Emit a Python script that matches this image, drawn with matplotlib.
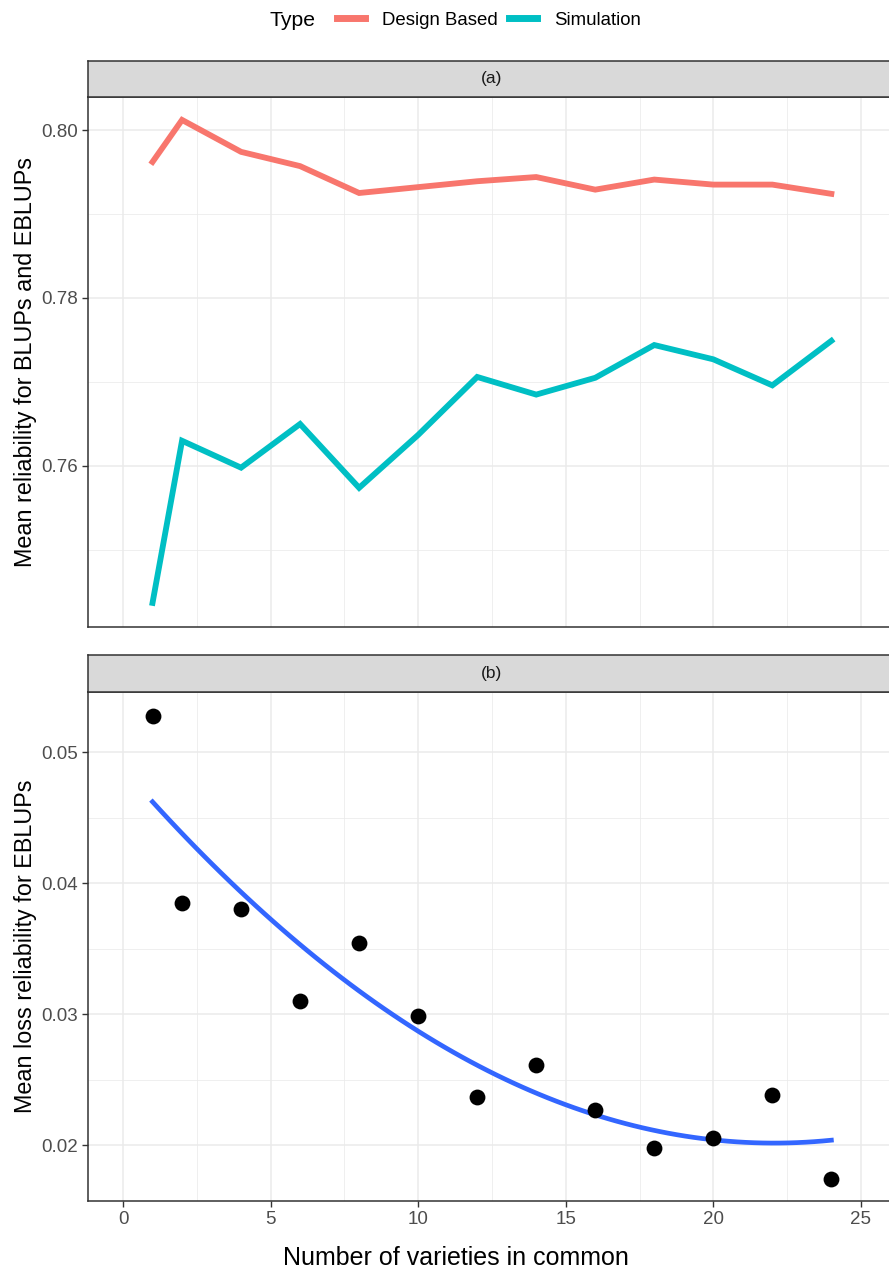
import numpy as np
import matplotlib
matplotlib.use("Agg")
import matplotlib.pyplot as plt
from matplotlib.lines import Line2D

plt.rcParams['font.family'] = ['Liberation Sans', 'DejaVu Sans']

# data
varieties = [1, 2, 4, 6, 8, 10, 12, 14, 16, 18, 20, 22, 24]
design_based = [0.7962, 0.8012, 0.7974, 0.7957, 0.7925, 0.7932, 0.7939, 0.7944,
                0.7929, 0.7941, 0.7935, 0.7935, 0.7924]
simulation = [0.7437, 0.7630, 0.7598, 0.7650, 0.7574, 0.7637, 0.7706, 0.7685,
              0.7705, 0.7744, 0.7727, 0.7696, 0.7749]
loss = [0.05275, 0.03847, 0.03802, 0.03099, 0.03542, 0.02985, 0.02366, 0.0261,
        0.02267, 0.01977, 0.02053, 0.02382, 0.0174]
type_labels = ["Design Based", "Simulation"]
type_colors = ["#F8766D", "#00BFC4"]
strip_labels = ["(a)", "(b)"]

W, H = 889, 1272
fig = plt.figure(figsize=(W / 100, H / 100), dpi=100)

def box(l, t, r, b):
    return [l / W, 1 - b / H, (r - l) / W, (b - t) / H]

grey20 = "#333333"
grid_c = "#EBEBEB"

def style(ax, xticks_on):
    ax.set_facecolor("white")
    for s in ax.spines.values():
        s.set_color(grey20)
        s.set_linewidth(1.1)
    ax.set_xlim(-1.186, 26.19)
    ax.set_xticks([0, 5, 10, 15, 20, 25])
    ax.set_xticks([2.5, 7.5, 12.5, 17.5, 22.5], minor=True)
    ax.grid(True, which="major", color=grid_c, lw=1.1)
    ax.grid(True, which="minor", color=grid_c, lw=0.55)
    ax.set_axisbelow(True)
    ax.tick_params(which="minor", length=0)
    ax.tick_params(which="major", length=4, width=1.0, color=grey20,
                   labelsize=13.5, labelcolor="#4D4D4D", pad=3.5)
    if not xticks_on:
        ax.tick_params(axis="x", which="major", length=0, labelbottom=False)

def strip(t, b, label):
    sa = fig.add_axes(box(88, t, 896, b))
    sa.set_facecolor("#D9D9D9")
    sa.set_xticks([])
    sa.set_yticks([])
    for s in sa.spines.values():
        s.set_color(grey20)
        s.set_linewidth(1.1)
    sa.text(0.5, 0.5, label, ha="center", va="center",
            fontsize=12.5, color="#1A1A1A", transform=sa.transAxes)

# panel (a)
ax1 = fig.add_axes(box(88, 97, 896, 627))
style(ax1, False)
ax1.plot(varieties, design_based, color=type_colors[0], lw=4.2, solid_joinstyle="miter")
ax1.plot(varieties, simulation, color=type_colors[1], lw=4.2, solid_joinstyle="miter")
ax1.set_ylim(0.74083, 0.80393)
ax1.set_yticks([0.76, 0.78, 0.80])
ax1.set_yticklabels(["0.76", "0.78", "0.80"])
ax1.set_yticks([0.75, 0.77, 0.79], minor=True)
ax1.set_ylabel("Mean reliability for BLUPs and EBLUPs", fontsize=16.8, labelpad=3)
strip(61, 97, strip_labels[0])

# panel (b): points + quadratic smooth
ax2 = fig.add_axes(box(88, 692, 896, 1201))
style(ax2, True)
coef = np.polyfit(varieties, loss, 2)
xs = np.linspace(min(varieties), max(varieties), 80)
ax2.plot(xs, np.polyval(coef, xs), color="#3366FF", lw=3.4, zorder=2)
ax2.scatter(varieties, loss, s=130, color="black", zorder=3, linewidths=0)
ax2.set_ylim(0.01573, 0.05458)
ax2.set_yticks([0.02, 0.03, 0.04, 0.05])
ax2.set_yticklabels(["0.02", "0.03", "0.04", "0.05"])
ax2.set_yticks([0.025, 0.035, 0.045], minor=True)
ax2.set_ylabel("Mean loss reliability for EBLUPs", fontsize=16.8, labelpad=3)
ax2.set_xlabel("Number of varieties in common", fontsize=18, labelpad=13)
ax2.xaxis.label.set_x((456 - 88) / (896 - 88))
strip(655, 692, strip_labels[1])

# legend on top
fig.text(270 / W, 1 - 20 / H, "Type", fontsize=15.2, ha="left", va="center")
handles = [Line2D([0], [0], color=c, lw=5) for c in type_colors]
fig.legend(handles, type_labels, loc="center", bbox_to_anchor=((336 + 642) / 2 / W, 1 - 20 / H),
           ncol=2, frameon=False, fontsize=13.4, handlelength=1.5, handletextpad=0.9,
           columnspacing=0.6, borderpad=0, borderaxespad=0)

fig.savefig("out.png", dpi=100)
